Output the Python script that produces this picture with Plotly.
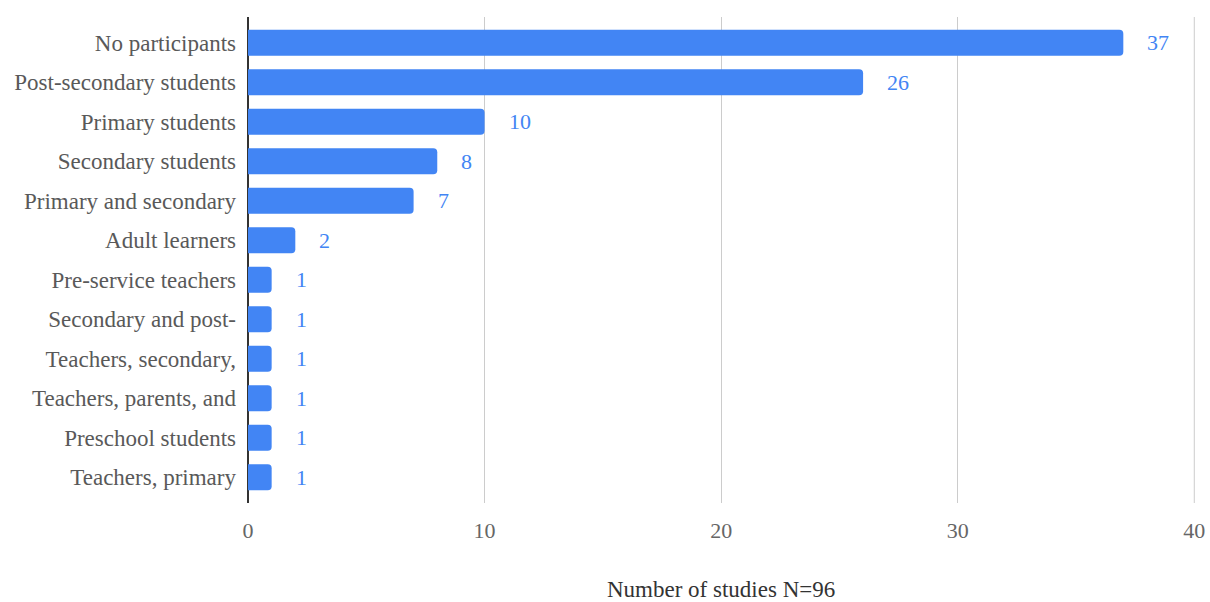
import plotly.graph_objects as go

categories = ["No participants", "Post-secondary students", "Primary students",
              "Secondary students", "Primary and secondary", "Adult learners",
              "Pre-service teachers", "Secondary and post-", "Teachers, secondary,",
              "Teachers, parents, and", "Preschool students", "Teachers, primary"]
values = [37, 26, 10, 8, 7, 2, 1, 1, 1, 1, 1, 1]
x_ticks = [0, 10, 20, 30, 40]

BLUE = "#4285F4"
FONT = "Liberation Serif, Times New Roman, serif"

fig = go.Figure(go.Bar(
    x=values, y=categories, orientation="h",
    marker=dict(color=BLUE, line=dict(width=0)),
    hoverinfo="skip",
))

for c, v in zip(categories, values):
    fig.add_annotation(x=v, y=c, text=str(v), showarrow=False,
                       xanchor="left", xshift=22,
                       font=dict(family=FONT, size=22, color=BLUE))

# last grid line at the right edge
fig.add_shape(type="line", xref="x", yref="paper", x0=x_ticks[-1], x1=x_ticks[-1],
              y0=0, y1=1, line=dict(color="#cccccc", width=1), layer="below")

fig.update_layout(
    width=1210, height=602,
    margin=dict(l=248, r=15, t=17, b=99, autoexpand=False),
    paper_bgcolor="white", plot_bgcolor="white",
    bargap=0.34, barcornerradius=4,
    font=dict(family=FONT, size=23, color="#595959"),
    showlegend=False,
    xaxis=dict(range=[0, 40.03], tickvals=x_ticks, showgrid=True,
               gridcolor="#cccccc", gridwidth=1, automargin=False,
               zeroline=True, zerolinecolor="#333333", zerolinewidth=2,
               showline=False, ticks="", ticklabelstandoff=12,
               tickfont=dict(family=FONT, size=22, color="#666666")),
    yaxis=dict(range=[11.65, -0.65], showgrid=False, showline=False,
               ticks="", ticklabelstandoff=11, automargin=False,
               tickfont=dict(family=FONT, size=23, color="#595959")),
    annotations=list(fig.layout.annotations) + [dict(
        text="Number of studies N=96", xref="paper", yref="paper",
        x=(721 - 248) / 947, y=0, yshift=-86, showarrow=False,
        xanchor="center", yanchor="middle",
        font=dict(family=FONT, size=23, color="#333333"))],
)

fig.write_html("out.html")
